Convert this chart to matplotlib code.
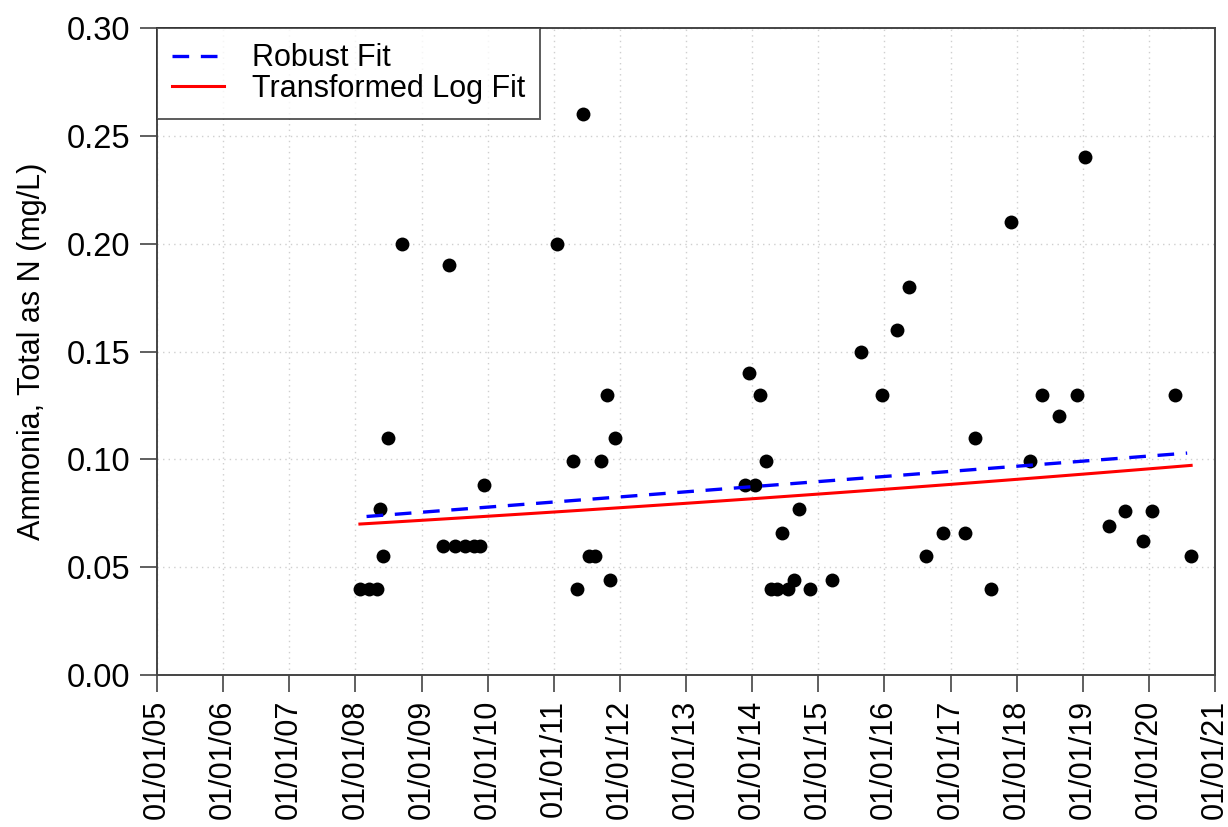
import matplotlib
matplotlib.use("Agg")
import matplotlib.pyplot as plt
import matplotlib.dates as mdates
import numpy as np
from datetime import datetime, timedelta

plt.rcParams["font.family"] = ["Liberation Sans", "DejaVu Sans"]

# Sample dates as decimal years and ammonia concentrations (mg/L)
sample_years = [
    2008.07, 2008.20, 2008.33, 2008.37, 2008.42, 2008.50, 2008.70,
    2009.33, 2009.41, 2009.51, 2009.66, 2009.79, 2009.89, 2009.95,
    2011.05, 2011.29, 2011.36, 2011.44, 2011.54, 2011.63, 2011.72,
    2011.80, 2011.85, 2011.93,
    2013.89, 2013.95, 2014.04, 2014.12, 2014.21, 2014.28, 2014.38,
    2014.46, 2014.55, 2014.64, 2014.71, 2014.88, 2015.21,
    2015.65, 2015.96, 2016.19, 2016.37, 2016.63, 2016.88, 2017.22,
    2017.37, 2017.62, 2017.91, 2018.20, 2018.38, 2018.64, 2018.91,
    2019.03, 2019.40, 2019.64, 2019.92, 2020.05, 2020.40, 2020.64,
]
ammonia = [
    0.04, 0.04, 0.04, 0.077, 0.055, 0.11, 0.20,
    0.06, 0.19, 0.06, 0.06, 0.06, 0.06, 0.088,
    0.20, 0.099, 0.04, 0.26, 0.055, 0.055, 0.099,
    0.13, 0.044, 0.11,
    0.088, 0.14, 0.088, 0.13, 0.099, 0.04, 0.04,
    0.066, 0.04, 0.044, 0.077, 0.04, 0.044,
    0.15, 0.13, 0.16, 0.18, 0.055, 0.066, 0.066,
    0.11, 0.04, 0.21, 0.099, 0.13, 0.12, 0.13,
    0.24, 0.069, 0.076, 0.062, 0.076, 0.13, 0.055,
]

# Trend lines: endpoints in decimal years and fitted concentrations
robust_years = [2008.17, 2020.58]
robust_values = [0.0735, 0.1029]
logfit_years = [2008.07, 2020.64]
logfit_values = [0.0700, 0.0972]

y_ticks = [0.00, 0.05, 0.10, 0.15, 0.20, 0.25, 0.30]
x_tick_years = list(range(2005, 2022))


def to_date(y):
    year = int(np.floor(y))
    start = datetime(year, 1, 1)
    days = (datetime(year + 1, 1, 1) - start).days
    return start + timedelta(days=(y - year) * days)


dates = [to_date(y) for y in sample_years]

# Robust fit is linear in time
r_dates = [to_date(y) for y in robust_years]

# Log-transformed fit is linear in log space, so draw it as an exponential curve
lt = np.linspace(logfit_years[0], logfit_years[1], 100)
k = np.log(logfit_values[1] / logfit_values[0]) / (logfit_years[1] - logfit_years[0])
lv = logfit_values[0] * np.exp(k * (lt - logfit_years[0]))
l_dates = [to_date(y) for y in lt]

fig = plt.figure(figsize=(12.28, 8.27), dpi=100)
ax = fig.add_axes([0.1279, 0.1838, 0.8615, 0.7823])

ax.grid(True, color="#cfcfcf", linestyle=(0, (1, 3)), linewidth=1.0)
ax.set_axisbelow(True)

ax.scatter(dates, ammonia, s=100, color="black", zorder=3, linewidths=0)
ax.plot(r_dates, robust_values, color="blue", linestyle=(0, (5, 3.5)),
        linewidth=2.4, label="Robust Fit", zorder=4)
ax.plot(l_dates, lv, color="red", linestyle="-", linewidth=2.2,
        label="Transformed Log Fit", zorder=4)

ax.set_xlim(datetime(2005, 1, 1), datetime(2021, 1, 1))
ax.set_ylim(0, 0.30)
ax.set_xticks([datetime(y, 1, 1) for y in x_tick_years])
ax.xaxis.set_major_formatter(mdates.DateFormatter("%m/%d/%y"))
ax.set_yticks(y_ticks)
ax.set_yticklabels([f"{v:.2f}" for v in y_ticks])

ax.tick_params(axis="x", labelrotation=90, labelsize=22, length=12,
               width=1.2, color="#444444", pad=6)
ax.tick_params(axis="y", labelsize=23.5, length=12, width=1.2,
               color="#444444", pad=7)

for side in ["left", "bottom", "top", "right"]:
    ax.spines[side].set_color("#444444")
    ax.spines[side].set_linewidth(1.4)

ax.set_ylabel("Ammonia, Total as N (mg/L)", fontsize=22, labelpad=14)

leg = ax.legend(loc="upper left", fontsize=22, frameon=True, fancybox=False,
                edgecolor="#333333", borderaxespad=0.0, handlelength=1.7,
                borderpad=0.5, labelspacing=0.02, handletextpad=0.9)
leg.get_frame().set_linewidth(1.4)

fig.savefig("out.png", dpi=100)
